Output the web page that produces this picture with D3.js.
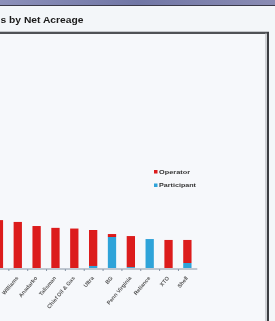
<!DOCTYPE html>
<html>
<head>
<meta charset="utf-8">
<script src="https://cdn.jsdelivr.net/npm/d3@7"></script>
<style>
html,body{margin:0;padding:0;background:#f3f6f9;overflow:hidden;}
svg{display:block;}
</style>
</head>
<body>
<svg id="chart" width="275" height="321"></svg>
<script>
const titleText = "s by Net Acreage";
const categories = ["Cabot", "Williams", "Anadarko", "Talisman", "Chief Oil & Gas", "Ultra", "BG", "Penn Virginia", "Reliance", "XTO", "Shell"];
const participantValues = [0, 0, 0, 0, 0, 450, 6800, 200, 6350, 0, 1100];
const operatorValues = [10500, 10100, 9200, 8800, 8650, 7880, 650, 6800, 0, 6150, 5050];
const seriesNames = ["Participant", "Operator"];
const legendOrder = ["Operator", "Participant"];
const colors = {Operator: "#dc1a1a", Participant: "#2ea3d9"};

const svg = d3.select("#chart");
const W = 275, H = 321;

svg.append("rect").attr("width", W).attr("height", H).attr("fill", "#f3f6f9");

const defs = svg.append("defs");
const g1 = defs.append("linearGradient").attr("id", "strip");
g1.append("stop").attr("offset", "0%").attr("stop-color", "#8c90ba");
g1.append("stop").attr("offset", "50%").attr("stop-color", "#7177a6");
g1.append("stop").attr("offset", "100%").attr("stop-color", "#8a8cb4");
const blur = defs.append("filter").attr("id", "soft").attr("x", "-5%").attr("y", "-5%").attr("width", "110%").attr("height", "110%");
blur.append("feGaussianBlur").attr("stdDeviation", 0.45);

svg.append("rect").attr("x", 0).attr("y", 0).attr("width", W).attr("height", 5).attr("fill", "url(#strip)");
svg.append("line").attr("x1", 0).attr("x2", W).attr("y1", 5.5).attr("y2", 5.5).attr("stroke", "#3a3a4a").attr("stroke-width", 1);

// title (visible part of the cropped title)
svg.append("text").attr("x", 0.5).attr("y", 23)
  .attr("font-family", "Liberation Sans, Arial, sans-serif")
  .attr("font-size", 9.5).attr("font-weight", "bold").attr("fill", "#1a1a1a")
  .attr("textLength", 83).attr("lengthAdjust", "spacingAndGlyphs")
  .attr("filter", "url(#soft)")
  .text(titleText);

// chart frame
svg.append("rect").attr("x", -5).attr("y", 33).attr("width", 273).attr("height", 300).attr("fill", "#f6f8fb");
svg.append("line").attr("x1", 0).attr("x2", 269).attr("y1", 31.5).attr("y2", 31.5).attr("stroke", "#c4c7cb").attr("stroke-width", 1);
svg.append("line").attr("x1", 0).attr("x2", 269).attr("y1", 33).attr("y2", 33).attr("stroke", "#505256").attr("stroke-width", 2);
svg.append("line").attr("x1", 266).attr("x2", 266).attr("y1", 33).attr("y2", H).attr("stroke", "#a8abb0").attr("stroke-width", 1);
svg.append("line").attr("x1", 268).attr("x2", 268).attr("y1", 32).attr("y2", H).attr("stroke", "#3c3e42").attr("stroke-width", 2);

const plot = svg.append("g").attr("filter", "url(#soft)");

const x = d3.scaleBand().domain(categories).range([-10.5, 196.8]).paddingInner(0.56).paddingOuter(0.28);
const y = d3.scaleLinear().domain([0, 50000]).range([268, 40]);

const rows = categories.map((c, i) => ({cat: c, Participant: participantValues[i], Operator: operatorValues[i]}));
const stack = d3.stack().keys(seriesNames)(rows);

plot.selectAll("g.series").data(stack).join("g")
  .attr("class", "series")
  .attr("fill", d => colors[d.key])
  .selectAll("rect").data(d => d).join("rect")
  .attr("x", d => x(d.data.cat))
  .attr("width", x.bandwidth())
  .attr("y", d => y(d[1]))
  .attr("height", d => y(d[0]) - y(d[1]));

// x axis
const axis = d3.axisBottom(x).tickSize(0).tickFormat("");
const ax = plot.append("g").attr("transform", "translate(0,268.5)").call(axis);
ax.select(".domain").attr("stroke", "#8896a6").attr("stroke-width", 1);

// boundary ticks
const step = x.step();
plot.selectAll("line.btick").data(categories.slice(1)).join("line")
  .attr("class", "btick")
  .attr("x1", d => x(d) + x.bandwidth() / 2 - step / 2 + 0.5)
  .attr("x2", d => x(d) + x.bandwidth() / 2 - step / 2 + 0.5)
  .attr("y1", 269).attr("y2", 271)
  .attr("stroke", "#8896a6").attr("stroke-width", 1);

// category labels (only those whose anchor falls inside the view)
plot.selectAll("text.cat").data(categories.filter(c => x(c) + x.bandwidth() / 2 > 5)).join("text")
  .attr("class", "cat")
  .attr("transform", d => `translate(${x(d) + x.bandwidth() / 2 - 0.5},277) rotate(-50)`)
  .attr("text-anchor", "end")
  .attr("dy", "0.35em")
  .attr("font-family", "Liberation Sans, Arial, sans-serif")
  .attr("font-size", 5.5).attr("font-weight", "bold").attr("fill", "#555")
  .text(d => d);

// legend
const leg = plot.append("g").attr("transform", "translate(154,170)");
const lengths = {Operator: 31, Participant: 37};
legendOrder.forEach((k, i) => {
  const gy = i * 13.5;
  leg.append("rect").attr("x", 0).attr("y", gy).attr("width", 3.5).attr("height", 3.5).attr("fill", colors[k]);
  leg.append("text").attr("x", 5).attr("y", gy + 3.6)
    .attr("font-family", "Liberation Sans, Arial, sans-serif")
    .attr("font-size", 5).attr("font-weight", "bold").attr("fill", "#333")
    .attr("textLength", lengths[k]).attr("lengthAdjust", "spacingAndGlyphs")
    .text(k);
});
</script>
</body>
</html>
